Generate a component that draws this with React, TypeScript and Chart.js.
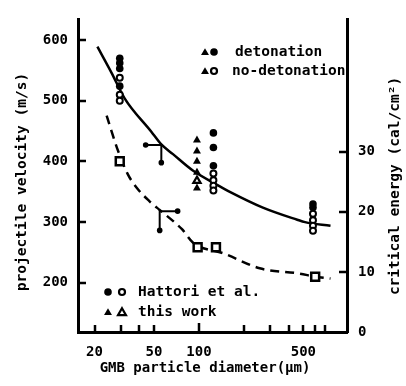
import React, { useEffect, useRef } from 'react';
import { Chart, registerables } from 'chart.js';

Chart.register(...registerables);

const FONT = "'DejaVu Sans Mono', 'Liberation Mono', monospace";

// axis ticks
const xTickValues = [20, 30, 40, 50, 100, 200, 300, 400, 500, 600, 700];
const xTickLabels = ['20', '', '', '50', '100', '', '', '', '500', '', ''];
const yTickValues = [200, 300, 400, 500, 600];
const y2TickValues = [0, 10, 20, 30];

// Hattori et al., detonation (filled circles)
const hattoriDetD = [29.5, 29.5, 29.5, 29.5, 125, 125, 125, 580, 580];
const hattoriDetV = [570, 562, 553, 524, 447, 423, 393, 330, 324];
// Hattori et al., no-detonation (open circles)
const hattoriNoDetD = [29.5, 29.5, 29.5, 125, 125, 125, 125, 580, 580, 580, 580];
const hattoriNoDetV = [538, 510, 500, 380, 369, 360, 352, 314, 303, 294, 286];
// this work, detonation (filled triangles)
const thisDetD = [97, 97, 97, 97, 97];
const thisDetV = [435, 417, 400, 382, 356];
// this work, no-detonation (open triangle)
const thisNoDetD = [97];
const thisNoDetV = [368];
// critical energy (open squares, right axis)
const energyD = [29.5, 98, 130, 600];
const energyE = [28.4, 14.1, 14.1, 9.2];
// range bars
const velRangeD = [44, 56, 56];
const velRangeV = [427, 427, 398];
const energyRangeD = [72, 54.6, 54.6];
const energyRangeE = [20.1, 20.1, 16.9];
// fitted curves
const velFitD = [20.9, 26, 31.8, 48, 56, 67, 91, 138, 161, 268, 455, 513, 760];
const velFitV = [589, 546, 504, 449, 428, 412, 385, 359, 350, 324, 304, 300, 294];
const energyFitD = [24.1, 28.3, 33.3, 38.9, 46.9, 54.6, 69, 77, 91, 149, 255, 475, 600, 760];
const energyFitE = [36.0, 30.6, 26.3, 23.8, 21.7, 20.3, 18.2, 17.1, 14.9, 13.0, 10.6, 9.7, 9.2, 8.9];

const pts = (xs: number[], ys: number[]) => xs.map((x, i) => ({ x, y: ys[i] }));

function drawMarker(ctx: CanvasRenderingContext2D, kind: string, cx: number, cy: number, filled: boolean) {
  ctx.beginPath();
  if (kind === 'circle') {
    ctx.arc(cx, cy, filled ? 3.8 : 3, 0, Math.PI * 2);
  } else {
    const r = 4.6;
    for (let k = 0; k < 3; k++) {
      const a = (k * 2 * Math.PI) / 3;
      const px = cx + Math.sin(a) * r;
      const py = cy - Math.cos(a) * r + 0.8;
      if (k === 0) ctx.moveTo(px, py);
      else ctx.lineTo(px, py);
    }
    ctx.closePath();
  }
  if (filled) {
    ctx.fillStyle = '#000';
    ctx.fill();
  } else {
    ctx.fillStyle = '#fff';
    ctx.fill();
    ctx.lineWidth = 2.2;
    ctx.strokeStyle = '#000';
    ctx.stroke();
  }
}

const decor = {
  id: 'decor',
  afterDraw(chart: any) {
    const ctx: CanvasRenderingContext2D = chart.ctx;
    const { x, y, y2 } = chart.scales;
    const area = chart.chartArea;
    ctx.save();
    ctx.strokeStyle = '#000';
    ctx.lineWidth = 2.5;
    // inward tick marks
    ctx.beginPath();
    x.ticks.forEach((t: any) => {
      const px = Math.round(x.getPixelForValue(t.value));
      const len = t.value === 100 ? 9 : 7;
      ctx.moveTo(px, area.bottom);
      ctx.lineTo(px, area.bottom - len);
    });
    y.ticks.forEach((t: any) => {
      const py = Math.round(y.getPixelForValue(t.value));
      ctx.moveTo(area.left, py);
      ctx.lineTo(area.left + 8, py);
    });
    y2.ticks.forEach((t: any) => {
      if (t.value === 0) return;
      const py = Math.round(y2.getPixelForValue(t.value));
      ctx.moveTo(area.right, py);
      ctx.lineTo(area.right - 8, py);
    });
    ctx.stroke();

    // titles
    ctx.fillStyle = '#000';
    ctx.font = `bold 14.5px ${FONT}`;
    ctx.textBaseline = 'middle';
    ctx.textAlign = 'center';
    ctx.save();
    ctx.translate(22, 182);
    ctx.rotate(-Math.PI / 2);
    ctx.fillText('projectile velocity (m/s)', 0, 0);
    ctx.restore();
    ctx.save();
    ctx.translate(395, 186);
    ctx.rotate(-Math.PI / 2);
    ctx.fillText('critical energy (cal/cm²)', 0, 0);
    ctx.restore();
    ctx.font = `bold 14px ${FONT}`;
    ctx.fillText('GMB particle diameter(μm)', 205, 368);

    // legend (top right)
    ctx.textAlign = 'left';
    ctx.font = `bold 14.5px ${FONT}`;
    drawMarker(ctx, 'tri', 205, 52, true);
    drawMarker(ctx, 'circle', 214, 52, true);
    ctx.fillStyle = '#000';
    ctx.fillText('detonation', 235, 52);
    drawMarker(ctx, 'tri', 205, 71, true);
    drawMarker(ctx, 'circle', 214, 71, false);
    ctx.fillStyle = '#000';
    ctx.fillText('no-detonation', 232, 71);

    // legend (bottom left)
    drawMarker(ctx, 'circle', 108, 292, true);
    drawMarker(ctx, 'circle', 122, 292, false);
    ctx.fillStyle = '#000';
    ctx.fillText('Hattori et al.', 138, 292);
    drawMarker(ctx, 'tri', 108, 312, true);
    drawMarker(ctx, 'tri', 122, 312, false);
    ctx.fillStyle = '#000';
    ctx.fillText('this work', 138, 312);
    ctx.restore();
  },
};

export default function App() {
  const ref = useRef<HTMLCanvasElement>(null);
  useEffect(() => {
    const canvas = ref.current;
    if (!canvas) return;
    const tickFont = { family: FONT, size: 14, weight: 'bold' as const };
    const chart = new Chart(canvas, {
      type: 'scatter',
      data: {
        datasets: [
          {
            label: 'Hattori detonation',
            data: pts(hattoriDetD, hattoriDetV),
            yAxisID: 'y',
            pointStyle: 'circle',
            pointRadius: 3.8,
            pointBorderWidth: 0,
            pointBackgroundColor: '#000',
            borderColor: '#000',
          },
          {
            label: 'Hattori no-detonation',
            data: pts(hattoriNoDetD, hattoriNoDetV),
            yAxisID: 'y',
            pointStyle: 'circle',
            pointRadius: 3,
            pointBorderWidth: 2,
            pointBackgroundColor: '#fff',
            pointBorderColor: '#000',
          },
          {
            label: 'this work detonation',
            data: pts(thisDetD, thisDetV),
            yAxisID: 'y',
            pointStyle: 'triangle',
            pointRadius: 4.6,
            pointBorderWidth: 0,
            pointBackgroundColor: '#000',
          },
          {
            label: 'this work no-detonation',
            data: pts(thisNoDetD, thisNoDetV),
            yAxisID: 'y',
            pointStyle: 'triangle',
            pointRadius: 4.2,
            pointBorderWidth: 2.2,
            pointBackgroundColor: '#fff',
            pointBorderColor: '#000',
          },
          {
            label: 'critical energy',
            data: pts(energyD, energyE),
            yAxisID: 'y2',
            pointStyle: 'rect',
            pointRadius: 5.6,
            pointBorderWidth: 2.5,
            pointBackgroundColor: '#fff',
            pointBorderColor: '#000',
          },
          {
            label: 'velocity range',
            data: pts(velRangeD, velRangeV),
            yAxisID: 'y',
            showLine: true,
            borderColor: '#000',
            borderWidth: 2,
            pointRadius: [2.8, 0, 2.8],
            pointBorderWidth: 0,
            pointBackgroundColor: '#000',
          },
          {
            label: 'energy range',
            data: pts(energyRangeD, energyRangeE),
            yAxisID: 'y2',
            showLine: true,
            borderColor: '#000',
            borderWidth: 2,
            pointRadius: [2.8, 0, 2.8],
            pointBorderWidth: 0,
            pointBackgroundColor: '#000',
          },
          {
            label: 'velocity fit',
            data: pts(velFitD, velFitV),
            yAxisID: 'y',
            showLine: true,
            borderColor: '#000',
            borderWidth: 2.5,
            pointRadius: 0,
            cubicInterpolationMode: 'monotone',
          },
          {
            label: 'energy fit',
            data: pts(energyFitD, energyFitE),
            yAxisID: 'y2',
            showLine: true,
            borderColor: '#000',
            borderWidth: 2.5,
            borderDash: [9, 6],
            pointRadius: 0,
            cubicInterpolationMode: 'monotone',
          },
        ],
      },
      options: {
        responsive: false,
        animation: false,
        devicePixelRatio: 1,
        events: [],
        layout: { padding: { top: 12, left: 0, right: 0, bottom: 0 } },
        plugins: { legend: { display: false }, tooltip: { enabled: false } },
        scales: {
          x: {
            type: 'logarithmic',
            position: 'bottom',
            min: 15.5,
            max: 980,
            grid: { display: false, drawTicks: false },
            border: { display: true, color: '#000', width: 3 },
            ticks: {
              font: tickFont,
              color: '#000',
              padding: 12,
              autoSkip: false,
              maxRotation: 0,
              callback: (v: any) => {
                const i = xTickValues.indexOf(Number(v));
                return i >= 0 ? xTickLabels[i] : '';
              },
            },
            afterBuildTicks: (s: any) => {
              s.ticks = xTickValues.map((value) => ({ value }));
            },
            afterFit: (s: any) => {
              s.height = 54;
            },
          },
          y: {
            type: 'linear',
            position: 'left',
            min: 119,
            max: 634,
            grid: { display: false, drawTicks: false },
            border: { display: true, color: '#000', width: 3 },
            ticks: { font: tickFont, color: '#000', padding: 10 },
            afterBuildTicks: (s: any) => {
              s.ticks = yTickValues.map((value) => ({ value }));
            },
            afterFit: (s: any) => {
              s.width = 78;
            },
          },
          y2: {
            type: 'linear',
            position: 'right',
            min: 0,
            max: 52,
            grid: { display: false, drawTicks: false },
            border: { display: true, color: '#000', width: 3 },
            ticks: { font: tickFont, color: '#000', padding: 11 },
            afterBuildTicks: (s: any) => {
              s.ticks = y2TickValues.map((value) => ({ value }));
            },
            afterFit: (s: any) => {
              s.width = 59;
            },
          },
        },
      },
      plugins: [decor],
    } as any);
    return () => chart.destroy();
  }, []);
  return (
    <div style={{ position: 'fixed', left: 0, top: 0, width: 406, height: 386, background: '#fff' }}>
      <canvas ref={ref} width={406} height={386} style={{ display: 'block' }} />
    </div>
  );
}
